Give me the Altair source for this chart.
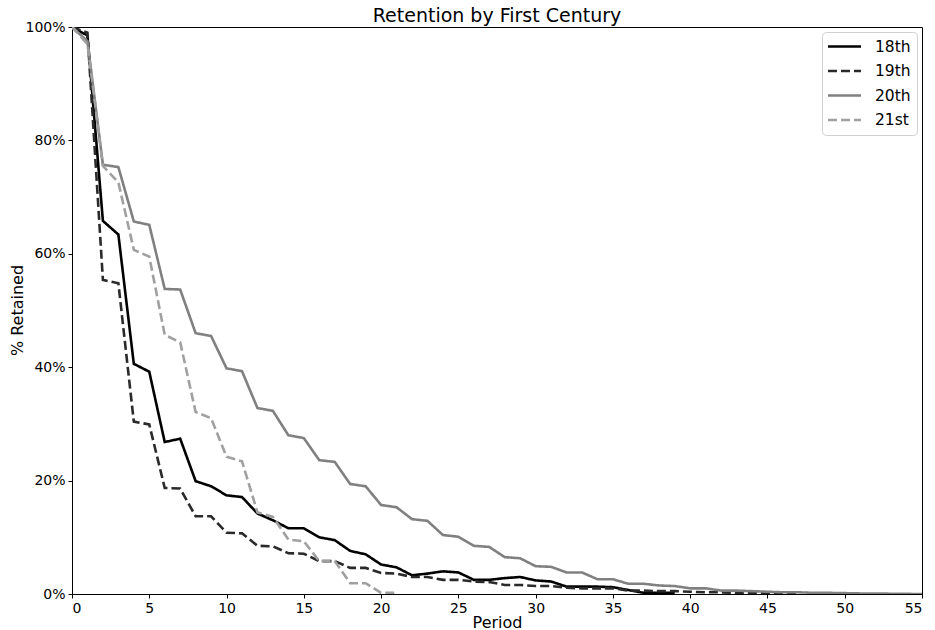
import altair as alt
import pandas as pd

centuries = ["18th", "19th", "20th", "21st"]

ret_18th = [100, 98.5, 65.8, 63.4, 40.6, 39.2, 26.8, 27.4, 19.9, 19.0,
            17.4, 17.1, 14.2, 13.0, 11.6, 11.6, 10.0, 9.5, 7.6, 7.0,
            5.2, 4.7, 3.3, 3.6, 4.0, 3.8, 2.5, 2.5, 2.8, 3.0,
            2.4, 2.2, 1.3, 1.3, 1.3, 1.2, 0.7, 0.2, 0.2, 0.2]
ret_19th = [100, 99.0, 55.4, 54.8, 30.4, 29.9, 18.7, 18.6, 13.7, 13.7,
            10.8, 10.7, 8.5, 8.4, 7.2, 7.1, 5.8, 5.8, 4.6, 4.6,
            3.7, 3.6, 3.0, 3.0, 2.5, 2.5, 2.2, 2.1, 1.6, 1.6,
            1.4, 1.4, 1.1, 1.0, 1.0, 1.0, 0.6, 0.6, 0.5, 0.5,
            0.4, 0.3, 0.3, 0.2, 0.2, 0.1, 0.1, 0.05]
ret_20th = [100, 97.5, 75.7, 75.3, 65.7, 65.1, 53.8, 53.7, 46.0, 45.5,
            39.8, 39.3, 32.8, 32.3, 28.0, 27.5, 23.6, 23.3, 19.4, 19.0,
            15.7, 15.3, 13.2, 12.9, 10.4, 10.1, 8.5, 8.3, 6.5, 6.3,
            4.9, 4.8, 3.8, 3.8, 2.6, 2.6, 1.8, 1.8, 1.5, 1.4,
            1.0, 1.0, 0.6, 0.6, 0.5, 0.4, 0.3, 0.3, 0.2, 0.2,
            0.15, 0.1, 0.1, 0.05, 0.02, 0.0]
ret_21st = [100, 97.0, 75.5, 72.6, 60.7, 59.5, 45.7, 44.4, 32.1, 31.0,
            24.2, 23.4, 14.4, 13.6, 9.6, 9.3, 5.8, 5.8, 1.9, 1.9,
            0.2, 0.2]

series = [ret_18th, ret_19th, ret_20th, ret_21st]
rows = []
for order, (name, vals) in enumerate(zip(centuries, series)):
    for period, v in enumerate(vals):
        rows.append({"Century": name, "Period": period, "Retained": v / 100.0, "order": order})
df = pd.DataFrame(rows)

colors = ["#000000", "#2a2a2a", "#808080", "#a0a0a0"]
dashes = [[1, 0], [9, 4], [1, 0], [9, 4]]

chart = (
    alt.Chart(df)
    .mark_line(strokeWidth=2.6, strokeCap="butt", strokeJoin="miter", clip=True)
    .encode(
        x=alt.X("Period:Q", title="Period",
                scale=alt.Scale(domain=[0, 55], nice=False),
                axis=alt.Axis(values=list(range(0, 56, 5)), format="d",
                              titleBaseline="alphabetic", titleY=33)),
        y=alt.Y("Retained:Q", title="% Retained",
                scale=alt.Scale(domain=[0, 1], nice=False),
                axis=alt.Axis(values=[0, 0.2, 0.4, 0.6, 0.8, 1.0], format=".0%",
                              titleAngle=270, titleAlign="center",
                              titleBaseline="middle", titleX=-55, titleY=283)),
        color=alt.Color("Century:N", title=None,
                        scale=alt.Scale(domain=centuries, range=colors)),
        strokeDash=alt.StrokeDash("Century:N", title=None,
                                  scale=alt.Scale(domain=centuries, range=dashes)),
        order=alt.Order("order:Q"),
        detail="Century:N",
    )
    .properties(
        width=850,
        height=567,
        title=alt.TitleParams("Retention by First Century", fontSize=19,
                              font="DejaVu Sans", fontWeight="normal",
                              color="black", offset=-6, anchor="middle"),
        autosize=alt.AutoSizeParams(type="none"),
        padding={"left": 72, "top": 27, "right": 13, "bottom": 36},
    )
    .configure(font="DejaVu Sans", background="white")
    .configure_view(stroke="black", strokeWidth=1)
    .configure_axis(
        grid=False,
        labelFont="DejaVu Sans",
        labelFontSize=14,
        labelColor="black",
        titleFont="DejaVu Sans",
        titleFontSize=16,
        titleFontWeight="normal",
        titleColor="black",
        domainColor="black",
        tickColor="black",
        tickSize=4,
        labelPadding=3,
    )
    .configure_legend(
        orient="top-right",
        offset=5,
        padding=6,
        cornerRadius=4,
        strokeColor="#d0d0d0",
        fillColor="white",
        symbolType="M-2.36,0H2.36",
        symbolSize=196,
        symbolOffset=8,
        symbolStrokeWidth=2.6,
        labelFontSize=15.5,
        labelFont="DejaVu Sans",
        labelColor="black",
        rowPadding=7.5,
        labelOffset=22,
    )
)

chart.save("out.html", embed_options={"renderer": "svg", "actions": False})
